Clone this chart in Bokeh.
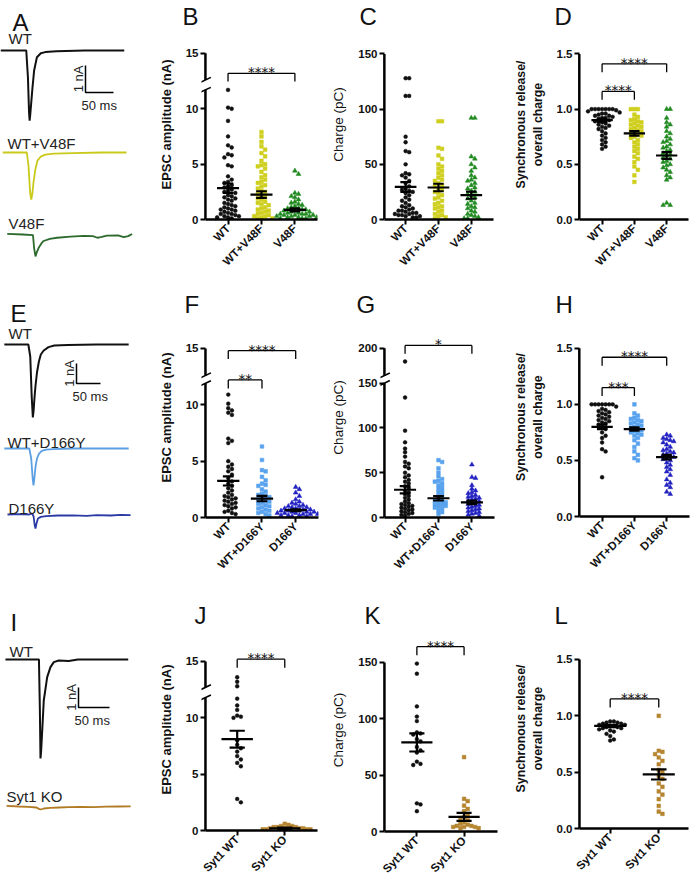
import math
from bokeh.plotting import figure
from bokeh.models import FixedTicker, Range1d
from bokeh.layouts import row, column
from bokeh.embed import file_html
from bokeh.resources import INLINE
from bokeh.core.properties import value

S = 1.0
FONT = "Liberation Sans"
STAR_FONT = "DejaVu Sans"


def sc(v):
    return int(round(v * S))


def fpx(v):
    return f"{v * S:.1f}px"

# ------------------------------------------------------------------ data
CATS_V48F = ["WT", "WT+V48F", "V48F"]
CATS_D166Y = ["WT", "WT+D166Y", "D166Y"]
CATS_SYT1 = ["Syt1 WT", "Syt1 KO"]

TICKS_AMP = [0, 5, 10, 15]
TICKS_CHARGE = [0, 50, 100, 150]
TICKS_CHARGE_G = [0, 50, 100, 150, 200]
TICKS_RATIO = [0.0, 0.5, 1.0, 1.5]

# B: EPSC amplitude (nA)
B_WT = [11.7, 10.1, 10.0, 8.9, 7.5, 6.7, 6.5, 5.9, 5.8, 5.6, 4.9, 4.8, 3.9, 3.6, 3.4, 3.3,
        3.1, 3.0, 2.9, 2.7, 2.6, 2.5, 2.4, 2.2, 2.1, 2.0, 1.9, 1.8, 1.7, 1.5, 1.4, 1.3, 1.2,
        1.1, 1.0, 0.9, 0.9, 0.8, 0.7, 0.6, 0.5, 0.5, 0.4, 0.3, 0.3, 0.2, 0.2, 0.1]
B_WT_V48F = [7.9, 7.5, 7.0, 6.6, 6.3, 6.0, 5.7, 5.3, 5.0, 4.9, 4.8, 4.6, 4.3, 4.0, 3.8, 3.6,
             3.4, 3.3, 3.1, 3.0, 2.8, 2.6, 2.5, 2.3, 2.2, 2.0, 1.9, 1.8, 1.6, 1.5, 1.4, 1.3,
             1.1, 1.0, 0.9, 0.8, 0.7, 0.6, 0.5, 0.4, 0.3, 0.3, 0.2, 0.1, 0.1]
B_V48F = [4.4, 4.1, 2.4, 2.3, 2.1, 2.0, 1.8, 1.6, 1.5, 1.4, 1.3, 1.2, 1.1, 1.0, 1.0, 0.9, 0.9,
          0.8, 0.8, 0.7, 0.7, 0.6, 0.6, 0.5, 0.5, 0.5, 0.4, 0.4, 0.4, 0.3, 0.3, 0.3, 0.2, 0.2,
          0.2, 0.1, 0.1, 0.1]
B_MEAN = [2.83, 2.25, 0.86]
B_SEM = [0.42, 0.30, 0.14]

# C: Charge (pC)
C_WT = [128, 128, 112, 112, 75, 70, 62, 61, 50, 42, 41, 40, 38, 35, 33, 30, 28, 27, 26, 25,
        24, 22, 20, 18, 17, 15, 13, 12, 11, 10, 9, 8, 8, 7, 6, 6, 5, 5, 4, 4, 3, 3, 2, 2]
C_WT_V48F = [89, 89, 65, 64, 58, 55, 50, 48, 46, 44, 42, 40, 38, 36, 35, 33, 31, 30, 28, 27,
             25, 24, 22, 20, 19, 17, 15, 14, 12, 11, 10, 8, 7, 5, 4, 3, 2, 1]
C_V48F = [92, 92, 57, 55, 50, 47, 44, 40, 38, 36, 35, 33, 31, 29, 28, 26, 25, 23, 22, 20, 19,
          17, 15, 14, 12, 11, 10, 8, 7, 5, 4, 3, 2, 1, 1]
C_MEAN = [29.5, 29.0, 22.0]
C_SEM = [4.4, 3.4, 3.2]

# D: synchronous / overall charge
D_WT = [1.0, 1.0, 1.0, 1.0, 1.0, 1.0, 1.0, 0.99, 0.98, 0.97, 0.96, 0.96, 0.95, 0.94, 0.94,
        0.93, 0.92, 0.92, 0.91, 0.90, 0.89, 0.88, 0.87, 0.86, 0.85, 0.84, 0.83, 0.82, 0.80,
        0.78, 0.76, 0.74, 0.72, 0.70, 0.68, 0.66, 0.64]
D_WT_V48F = [1.0, 1.0, 1.0, 0.95, 0.93, 0.91, 0.90, 0.89, 0.88, 0.87, 0.86, 0.85, 0.84, 0.83,
             0.82, 0.81, 0.80, 0.79, 0.78, 0.77, 0.76, 0.75, 0.74, 0.72, 0.70, 0.68, 0.66,
             0.64, 0.62, 0.60, 0.57, 0.55, 0.52, 0.48, 0.45, 0.40, 0.34]
D_V48F = [1.0, 1.0, 0.92, 0.88, 0.86, 0.84, 0.80, 0.78, 0.75, 0.73, 0.71, 0.70, 0.68, 0.66,
          0.65, 0.63, 0.62, 0.60, 0.59, 0.58, 0.56, 0.55, 0.53, 0.52, 0.50, 0.49, 0.47, 0.45,
          0.43, 0.40, 0.38, 0.36, 0.15, 0.13, 0.13]
D_MEAN = [0.90, 0.78, 0.58]
D_SEM = [0.015, 0.02, 0.03]

# F: EPSC amplitude (nA)
F_WT = [10.9, 10.1, 9.7, 9.5, 9.3, 9.1, 7.0, 6.8, 6.6, 5.0, 4.7, 4.5, 4.3, 4.1, 3.8, 3.5, 3.2,
        3.0, 2.8, 2.6, 2.4, 2.2, 2.0, 1.9, 1.8, 1.7, 1.6, 1.5, 1.4, 1.3, 1.2, 1.1, 1.0, 0.9,
        0.8, 0.6, 0.5, 0.4, 0.3]
F_WT_D166Y = [6.3, 5.1, 4.2, 4.1, 3.6, 3.3, 3.0, 2.9, 2.8, 2.5, 2.3, 2.1, 2.0, 1.9, 1.8, 1.7,
              1.6, 1.5, 1.4, 1.3, 1.2, 1.1, 1.0, 0.9, 0.8, 0.7, 0.6, 0.5, 0.4, 0.3, 0.2]
F_D166Y = [2.7, 2.5, 2.2, 1.9, 1.6, 1.4, 1.3, 1.2, 1.1, 1.0, 1.0, 0.9, 0.9, 0.8, 0.8, 0.7, 0.7,
           0.6, 0.6, 0.6, 0.5, 0.5, 0.5, 0.4, 0.4, 0.4, 0.3, 0.3, 0.3, 0.2, 0.2, 0.2, 0.1, 0.1]
F_MEAN = [3.24, 1.68, 0.65]
F_SEM = [0.40, 0.24, 0.08]

# G: Charge (pC)
G_WT = [181, 134, 97, 84, 77, 73, 68, 62, 60, 57, 55, 50, 47, 45, 42, 40, 38, 35, 33, 30, 28,
        26, 24, 22, 20, 18, 16, 15, 14, 13, 12, 11, 10, 9, 8, 7, 6, 5, 4, 3, 2]
G_WT_D166Y = [64, 62, 55, 50, 46, 43, 41, 40, 38, 36, 34, 32, 30, 28, 26, 24, 22, 20, 19, 18,
              17, 16, 15, 14, 13, 12, 11, 10, 8, 6, 4]
G_D166Y = [59, 45, 44, 36, 32, 30, 28, 27, 25, 24, 23, 22, 21, 20, 19, 18, 17, 16, 15, 14, 13,
           12, 11, 10, 9, 8, 7, 6, 5, 4, 3, 2]
G_MEAN = [31.0, 21.5, 17.0]
G_SEM = [4.0, 2.5, 2.0]

# H: synchronous / overall charge
H_WT = [1.0, 1.0, 1.0, 1.0, 1.0, 1.0, 1.0, 0.98, 0.96, 0.95, 0.94, 0.93, 0.92, 0.91, 0.90,
        0.89, 0.88, 0.87, 0.86, 0.85, 0.84, 0.83, 0.82, 0.80, 0.78, 0.75, 0.72, 0.70, 0.66,
        0.60, 0.58, 0.35]
H_WT_D166Y = [1.0, 0.92, 0.90, 0.88, 0.87, 0.86, 0.85, 0.84, 0.83, 0.82, 0.81, 0.80, 0.79,
              0.78, 0.77, 0.76, 0.75, 0.74, 0.73, 0.72, 0.70, 0.68, 0.65, 0.62, 0.58, 0.55,
              0.52, 0.50]
H_D166Y = [0.73, 0.72, 0.70, 0.69, 0.68, 0.67, 0.66, 0.64, 0.62, 0.60, 0.59, 0.58, 0.57, 0.56,
           0.55, 0.54, 0.53, 0.52, 0.51, 0.50, 0.48, 0.46, 0.44, 0.42, 0.40, 0.37, 0.33, 0.30,
           0.28, 0.26, 0.22, 0.20]
H_MEAN = [0.80, 0.78, 0.53]
H_SEM = [0.02, 0.015, 0.02]

# J: EPSC amplitude (nA)
J_WT = [13.6, 13.2, 12.8, 11.7, 11.1, 10.7, 10.2, 10.1, 10.0, 8.0, 7.6, 7.3, 7.0, 6.6, 6.3,
        6.0, 5.7, 2.8, 2.5]
J_KO = [0.6, 0.5, 0.4, 0.4, 0.3, 0.3, 0.3, 0.2, 0.2, 0.2, 0.2, 0.1, 0.1, 0.1, 0.1, 0.1]
J_MEAN = [8.1, 0.2]
J_SEM = [0.75, 0.05]

# K: Charge (pC)
K_WT = [149, 140, 111, 102, 98, 88, 87, 86, 82, 80, 75, 72, 70, 62, 60, 59, 25, 24, 18]
K_KO = [66, 29, 27, 23, 20, 18, 15, 13, 12, 10, 8, 7, 6, 5, 5, 4, 4, 4, 3, 3]
K_MEAN = [79.0, 13.0]
K_SEM = [8.0, 3.5]

# L: synchronous / overall charge
L_WT = [0.95, 0.95, 0.94, 0.94, 0.93, 0.93, 0.92, 0.92, 0.91, 0.91, 0.90, 0.90, 0.89, 0.89,
        0.88, 0.87, 0.86, 0.84, 0.82, 0.79, 0.78]
L_KO = [1.0, 0.69, 0.68, 0.66, 0.63, 0.60, 0.57, 0.52, 0.50, 0.47, 0.44, 0.40, 0.37, 0.33,
        0.30, 0.26, 0.20, 0.15, 0.13]
L_MEAN = [0.91, 0.48]
L_SEM = [0.01, 0.045]

# Example traces: time (ms) and current (nA)
TA_WT_T = [0, 46, 49, 51, 52, 53, 55, 57, 60, 65, 72, 80, 100, 150, 221]
TA_WT_I = [0, 0, -1.0, -2.3, -2.6, -2.4, -1.9, -1.4, -0.75, -0.25, -0.1, -0.06, -0.03, 0, 0]
TA_WTV_T = [4, 47, 50, 53, 55, 57, 59, 62, 66, 72, 80, 95, 130, 180, 225]
TA_WTV_I = [0, 0, -0.5, -1.5, -1.74, -1.5, -1.1, -0.65, -0.3, -0.15, -0.08, -0.04, -0.02, 0, 0]
TA_V_T = [12, 40, 58, 60, 62.5, 65, 68.5, 73, 77, 88, 101, 125, 149, 165, 173, 179, 190, 210,
          220, 228, 235]
TA_V_I = [0.02, 0.0, -0.02, -0.5, -0.81, -0.65, -0.48, -0.33, -0.24, -0.16, -0.12, -0.08,
          -0.05, -0.06, -0.12, -0.1, -0.04, -0.03, -0.1, -0.06, 0.02]

TE_WT_T = [8, 58, 62, 65, 67.4, 69, 71, 73, 76, 80, 84, 90, 100, 112, 140, 200, 267]
TE_WT_I = [0, 0, -0.6, -2.6, -3.65, -3.3, -2.6, -2.05, -1.4, -0.85, -0.5, -0.3, -0.13, -0.05,
           -0.02, 0, 0]
TE_WTD_T = [8, 60, 64, 67, 68.75, 70.5, 73, 76, 80, 86, 95, 110, 150, 267]
TE_WTD_I = [0, 0, -0.5, -1.5, -1.85, -1.5, -0.9, -0.5, -0.27, -0.12, -0.06, -0.03, 0, 0]
TE_D_T = [14.6, 40, 60, 66, 69, 71, 72.9, 75, 78, 84, 95, 120, 150, 180, 200, 230, 250, 271]
TE_D_I = [0, 0.02, 0, 0.05, -0.1, -0.5, -0.7, -0.45, -0.2, -0.12, -0.08, -0.05, -0.04, -0.07,
          -0.03, -0.05, -0.02, -0.03]

TI_WT_T = [8, 62, 63.5, 64.5, 65.5, 67.3, 69.8, 75.3, 80.6, 86, 94, 110, 125, 206]
TI_WT_I = [0, 0, -2.5, -4.95, -4.6, -3.55, -2.05, -0.88, -0.38, -0.13, -0.05, -0.08, 0, 0]
TI_KO_T = [9.7, 30, 45, 58, 62, 65, 70, 80, 95, 110, 130, 150, 170, 190, 210]
TI_KO_I = [0.03, 0.0, -0.02, -0.05, -0.12, -0.15, -0.1, -0.07, -0.05, -0.03, -0.02, -0.03,
           -0.01, 0, 0.01]

# colours
COL_WT = "#111111"
COL_V48F_MIX = "#cfcf1f"
COL_V48F = "#218a21"
COL_D166Y_MIX = "#58a2ee"
COL_D166Y = "#2222c2"
COL_KO = "#b5852f"
TR_V48F_MIX = "#c9c91a"
TR_V48F = "#2d6a2d"
TR_D166Y_MIX = "#5b9fe3"
TR_D166Y = "#2b3aa5"
TR_KO = "#b07b24"

# layout grid (reference pixel units)
COLS = [(0, 155), (155, 328), (328, 510), (510, 692)]
ROWS = [(0, 288), (288, 592), (592, 887)]


# ------------------------------------------------------------------ helpers
def swarm(vals_px, d):
    placed, out = [], []
    for v in vals_px:
        k = 0
        while True:
            c = 0.0 if k == 0 else ((k + 1) // 2) * d * (1 if k % 2 == 1 else -1)
            if all((c - px) ** 2 + (v - py) ** 2 >= (0.92 * d) ** 2 for px, py in placed):
                break
            k += 1
        placed.append((c, v))
        out.append(c)
    return out


def dot_panel(col, rw, axis_x, x_end, cats_px, y0_px, ppu, frame_top, labels, groups,
              means, sems, ticks, y_top, ylabel, ylabel_bold, letter, letter_x,
              brk=None, brackets=(), tf=None, tick_labels=None):
    if tf is None:
        tf = lambda v: v
    frame_left = axis_x - 4
    sp = cats_px[1] - cats_px[0]
    c0 = cats_px[0]
    xs0 = (frame_left - c0) / sp
    xe = (x_end - c0) / sp
    ax = (axis_x - c0) / sp
    y_hi = (y0_px - frame_top) / ppu
    W = sc(col[1]) - sc(col[0])
    H = sc(rw[1]) - sc(rw[0])
    p = figure(width=W, height=H, x_range=Range1d(xs0, xe), y_range=Range1d(0, y_hi),
               output_backend="svg", toolbar_location=None, title=letter,
               min_border_left=sc(frame_left) - sc(col[0]),
               min_border_right=sc(col[1]) - sc(x_end),
               min_border_top=sc(frame_top) - sc(rw[0]),
               min_border_bottom=sc(rw[1]) - sc(y0_px))
    p.frame_align = False
    p.grid.visible = False
    p.outline_line_color = None
    p.title.align = "left"
    p.title.offset = (letter_x - frame_left) * S
    p.title.text_font = FONT
    p.title.text_font_size = fpx(24)
    p.title.text_font_style = "normal"
    p.title.text_color = "#111111"
    p.title.standoff = 0

    fw = sc(x_end) - sc(frame_left)
    fh = sc(y0_px) - sc(frame_top)
    xpx = fw / (xe - xs0)
    ypx = fh / y_hi

    # y axis (ticks + labels from bokeh, line drawn as glyph so it can be broken)
    yax = p.yaxis[0]
    yt = [tf(t) for t in ticks]
    yax.ticker = FixedTicker(ticks=yt)
    if tick_labels is not None:
        yax.major_label_overrides = {t: lab for t, lab in zip(yt, tick_labels)}
    yax.bounds = (0, tf(y_top))
    yax.axis_line_color = None
    yax.major_tick_in = int(round(4 * S))
    yax.major_tick_out = 1
    yax.major_tick_line_width = 2 * S
    yax.minor_tick_line_color = None
    yax.major_label_standoff = 2
    yax.major_label_text_font = FONT
    yax.major_label_text_font_style = "bold"
    yax.major_label_text_font_size = fpx(11.5)
    yax.major_label_text_color = "#111111"
    yax.axis_label = ylabel
    yax.axis_label_text_font = FONT
    yax.axis_label_text_font_style = "bold" if ylabel_bold else "normal"
    yax.axis_label_text_font_size = fpx(13 if ylabel_bold else 13.5) if "\n" not in ylabel else fpx(12.3)
    yax.axis_label_text_color = "#111111"
    yax.axis_label_standoff = int(round(9 * S))

    # x axis
    xax = p.xaxis[0]
    xax.ticker = FixedTicker(ticks=list(range(len(labels))))
    xax.major_label_overrides = {i: lab for i, lab in enumerate(labels)}
    xax.bounds = (ax, xe)
    xax.axis_line_width = 2.5 * S
    xax.major_tick_in = 0
    xax.major_tick_out = int(round(5 * S))
    xax.major_tick_line_width = 2 * S
    xax.minor_tick_line_color = None
    xax.major_label_orientation = math.pi / 4
    xax.major_label_standoff = 2
    xax.major_label_text_font = FONT
    xax.major_label_text_font_style = "bold"
    xax.major_label_text_font_size = fpx(11.5)
    xax.major_label_text_color = "#111111"

    # y axis line
    top = tf(y_top)
    if brk is None:
        p.segment(x0=[ax], y0=[0], x1=[ax], y1=[top], line_color="black", line_width=2.5 * S)
    else:
        lo, hi = brk
        p.segment(x0=[ax, ax], y0=[0, hi], x1=[ax, ax], y1=[lo, top], line_color="black",
                  line_width=2.5 * S)
        dx = 5.5 / xpx
        dy = 2.6 / ypx
        p.segment(x0=[ax - dx, ax - dx], y0=[lo - dy, hi - dy], x1=[ax + dx, ax + dx],
                  y1=[lo + dy, hi + dy], line_color="black", line_width=1.6 * S)

    # points
    for i, (vals, marker, color, size) in enumerate(groups):
        tv = [tf(v) for v in vals]
        offs = swarm([v * ypx for v in tv], 3.7)
        p.scatter(x=[i + o / xpx for o in offs], y=tv, marker=marker, size=size,
                  fill_color=color, line_color=color, line_width=0.5)

    # mean +/- SEM
    mx0, mx1, my = [], [], []
    for i, (m, s) in enumerate(zip(means, sems)):
        m = tf(m)
        mx0 += [i - 0.33, i - 0.16, i - 0.16, i]
        mx1 += [i + 0.33, i + 0.16, i + 0.16, i]
        my += [(m, m), (m + s, m + s), (m - s, m - s), (m - s, m + s)]
    p.segment(x0=mx0, x1=mx1, y0=[a for a, b in my], y1=[b for a, b in my],
              line_color="black", line_width=2.2 * S)

    # significance brackets
    for (i, j, yb, lab) in brackets:
        leg = yb - 8.5 / ypx
        p.segment(x0=[i, i, j], y0=[yb, yb, yb], x1=[j, i, j], y1=[yb, leg, leg],
                  line_color="black", line_width=1.3 * S)
        p.text(x=[(i + j) / 2], y=[yb + 1.0 / ypx], text=[lab], text_font=value(STAR_FONT),
               text_font_size=fpx(13.5), text_align="center", text_baseline="alphabetic",
               text_color="#111111")
    return p


def trace_panel(col, rw, pxms, pxna, base_px, traces, names, name_pos, letter, letter_pos, bar):
    cw = col[1] - col[0]
    rh = rw[1] - rw[0]
    W = sc(col[1]) - sc(col[0])
    H = sc(rw[1]) - sc(rw[0])
    b0 = base_px[0] - rw[0]
    p = figure(width=W, height=H, x_range=Range1d(0, cw / pxms),
               y_range=Range1d(-(rh - b0) / pxna, b0 / pxna), x_axis_type=None,
               y_axis_type=None, min_border=0, output_backend="svg", toolbar_location=None)
    p.frame_align = False
    p.outline_line_color = None

    def X(px):
        return px / pxms

    def Y(py):
        return (base_px[0] - py) / pxna

    for (t, cur, color, lw), bp in zip(traces, base_px):
        off = (base_px[0] - bp) / pxna
        p.line(t, [v + off for v in cur], line_color=color, line_width=lw * S)
    p.text(x=[X(px) for px, py in name_pos], y=[Y(py) for px, py in name_pos], text=names,
           text_font=value(FONT), text_font_size=fpx(15), text_baseline="alphabetic",
           text_align="left", text_color="#222222")
    p.text(x=[X(letter_pos[0])], y=[Y(letter_pos[1])], text=[letter], text_font=value(FONT),
           text_font_size=fpx(24), text_baseline="alphabetic", text_align="left",
           text_color="#111111")
    bx, by = bar
    xb = X(bx)
    yb = Y(by)
    p.line([xb, xb, xb + 50], [yb, yb - 1, yb - 1], line_color="black", line_width=1.5 * S)
    p.text(x=[xb - 7 / pxms], y=[yb - 0.5], text=["1 nA"], angle=math.pi / 2,
           text_font=value(FONT), text_font_size=fpx(13), text_align="center",
           text_baseline="middle", text_color="#222222")
    p.text(x=[xb - 4 / pxms], y=[yb - 1 - 13 / pxna], text=["50 ms"], text_font=value(FONT),
           text_font_size=fpx(13), text_align="left", text_baseline="alphabetic",
           text_color="#222222")
    return p


MK = ["circle", "square", "triangle"]
SZ = [3.8, 3.7, 4.8]
RATIO_LABELS = ["0.0", "0.5", "1.0", "1.5"]
EPSC = "EPSC amplitude (nA)"
CHG = "Charge (pC)"
SYN = "Synchronous release/\noverall charge"

# ------------------------------------------------------------------ row 1
fA = trace_panel(COLS[0], ROWS[0], 0.56, 27, [50, 152, 234],
                 [(TA_WT_T, TA_WT_I, COL_WT, 2.0), (TA_WTV_T, TA_WTV_I, TR_V48F_MIX, 1.8),
                  (TA_V_T, TA_V_I, TR_V48F, 1.8)],
                 ["WT", "WT+V48F", "V48F"], [(8, 38), (7, 143), (8, 223)],
                 "A", (12, 22), (85, 65))
fB = dot_panel(COLS[1], ROWS[0], 203, 317, [226, 260, 294], 219, 11.31, 25, CATS_V48F,
               [(B_WT, MK[0], COL_WT, SZ[0]), (B_WT_V48F, MK[1], COL_V48F_MIX, SZ[1]),
                (B_V48F, MK[2], COL_V48F, SZ[2])],
               B_MEAN, B_SEM, TICKS_AMP, 15, EPSC, True, "B", 180,
               brk=(11.7, 12.6), brackets=[(0, 2, 13.2, "****")])
fC = dot_panel(COLS[2], ROWS[0], 380, 493, [402, 436, 470], 219, 1.127, 25, CATS_V48F,
               [(C_WT, MK[0], COL_WT, SZ[0]), (C_WT_V48F, MK[1], COL_V48F_MIX, SZ[1]),
                (C_V48F, MK[2], COL_V48F, SZ[2])],
               C_MEAN, C_SEM, TICKS_CHARGE, 150, CHG, False, "C", 355)
fD = dot_panel(COLS[3], ROWS[0], 573, 688, [597, 631, 664], 219, 112.7, 25, CATS_V48F,
               [(D_WT, MK[0], COL_WT, SZ[0]), (D_WT_V48F, MK[1], COL_V48F_MIX, SZ[1]),
                (D_V48F, MK[2], COL_V48F, SZ[2])],
               D_MEAN, D_SEM, TICKS_RATIO, 1.5, SYN, True, "D", 548,
               brackets=[(0, 2, 1.41, "****"), (0, 1, 1.16, "****")],
               tick_labels=RATIO_LABELS)

# ------------------------------------------------------------------ row 2
fE = trace_panel(COLS[0], ROWS[1], 0.48, 20, [344, 448, 514],
                 [(TE_WT_T, TE_WT_I, COL_WT, 2.0), (TE_WTD_T, TE_WTD_I, TR_D166Y_MIX, 1.8),
                  (TE_D_T, TE_D_I, TR_D166Y, 1.8)],
                 ["WT", "WT+D166Y", "D166Y"], [(8, 333), (7, 442), (8, 508)],
                 "E", (10, 313), (76, 363))
fF = dot_panel(COLS[1], ROWS[1], 204, 318, [227, 261, 294], 517, 11.33, 316, CATS_D166Y,
               [(F_WT, MK[0], COL_WT, SZ[0]), (F_WT_D166Y, MK[1], COL_D166Y_MIX, SZ[1]),
                (F_D166Y, MK[2], COL_D166Y, SZ[2])],
               F_MEAN, F_SEM, TICKS_AMP, 15, EPSC, True, "F", 183,
               brk=(11.9, 12.6), brackets=[(0, 2, 14.8, "****"), (0, 1, 12.2, "**")])
G_TF = lambda v: v if v <= 150 else 150 + (v - 150) * 0.78
fG = dot_panel(COLS[2], ROWS[1], 382, 494, [403, 437, 471], 517, 0.9, 316, CATS_D166Y,
               [(G_WT, MK[0], COL_WT, SZ[0]), (G_WT_D166Y, MK[1], COL_D166Y_MIX, SZ[1]),
                (G_D166Y, MK[2], COL_D166Y, SZ[2])],
               G_MEAN, G_SEM, TICKS_CHARGE_G, 200, CHG, False, "G", 354,
               brk=(150, 158.5), brackets=[(0, 2, 192.2, "*")], tf=G_TF,
               tick_labels=["0", "50", "100", "150", "200"])
fH = dot_panel(COLS[3], ROWS[1], 573, 689, [597, 631, 665], 516, 112.7, 316, CATS_D166Y,
               [(H_WT, MK[0], COL_WT, SZ[0]), (H_WT_D166Y, MK[1], COL_D166Y_MIX, SZ[1]),
                (H_D166Y, MK[2], COL_D166Y, SZ[2])],
               H_MEAN, H_SEM, TICKS_RATIO, 1.5, SYN, True, "H", 549,
               brackets=[(0, 2, 1.42, "****"), (0, 1, 1.15, "***")],
               tick_labels=RATIO_LABELS)

# ------------------------------------------------------------------ row 3
fI = trace_panel(COLS[0], ROWS[2], 0.62, 20, [659, 806],
                 [(TI_WT_T, TI_WT_I, COL_WT, 2.0), (TI_KO_T, TI_KO_I, TR_KO, 1.8)],
                 ["WT", "Syt1 KO"], [(9, 651), (6, 796)],
                 "I", (10, 622), (78, 687))
fJ = dot_panel(COLS[1], ROWS[2], 204, 317, [236, 284], 830, 11.27, 628, CATS_SYT1,
               [(J_WT, MK[0], COL_WT, SZ[0]), (J_KO, MK[1], COL_KO, SZ[1])],
               J_MEAN, J_SEM, TICKS_AMP, 15, EPSC, True, "J", 193,
               brk=(11.8, 12.7), brackets=[(0, 1, 15.2, "****")])
fK = dot_panel(COLS[2], ROWS[2], 382, 497, [415, 463], 831, 1.127, 628, CATS_SYT1,
               [(K_WT, MK[0], COL_WT, SZ[0]), (K_KO, MK[1], COL_KO, SZ[1])],
               K_MEAN, K_SEM, TICKS_CHARGE, 150, CHG, False, "K", 362,
               brackets=[(0, 1, 164, "****")])
fL = dot_panel(COLS[3], ROWS[2], 578, 688, [609, 658], 828, 112.7, 628, CATS_SYT1,
               [(L_WT, MK[0], COL_WT, SZ[0]), (L_KO, MK[1], COL_KO, SZ[1])],
               L_MEAN, L_SEM, TICKS_RATIO, 1.5, SYN, True, "L", 553,
               brackets=[(0, 1, 1.15, "****")], tick_labels=RATIO_LABELS)

layout = column(row(fA, fB, fC, fD, spacing=0), row(fE, fF, fG, fH, spacing=0),
                row(fI, fJ, fK, fL, spacing=0), spacing=0)

open("out.html", "w").write(file_html(layout, INLINE, "Synaptotagmin-1 variants"))
